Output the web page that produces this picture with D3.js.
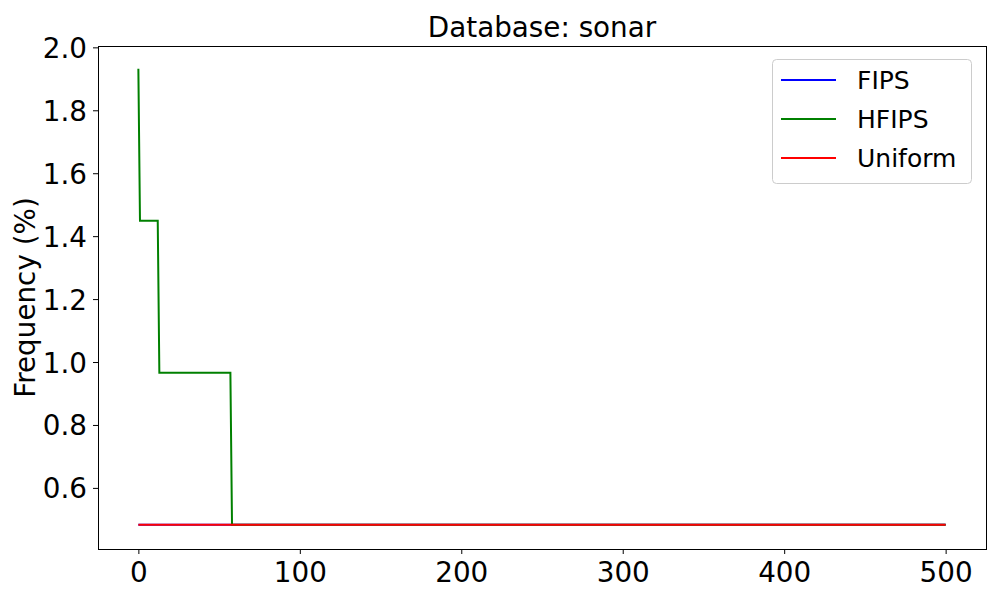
<!DOCTYPE html>
<html>
<head>
<meta charset="utf-8">
<script src="https://cdn.jsdelivr.net/npm/d3@7"></script>
<style>
  body { margin: 0; background: #fff; }
  text { font-family: "DejaVu Sans", sans-serif; fill: #000; }
</style>
</head>
<body>
<svg id="chart" width="1000" height="600"></svg>
<script>
// line vertices (x = index, y = frequency in %)
var fipsX = [0, 500];
var fipsY = [0.483, 0.483];
var hfipsX = [0, 1, 12, 13, 57, 58, 500];
var hfipsY = [1.932, 1.449, 1.449, 0.966, 0.966, 0.483, 0.483];
var uniformX = [0, 500];
var uniformY = [0.483, 0.483];
var seriesNames = ["FIPS", "HFIPS", "Uniform"];
var seriesColors = ["blue", "green", "red"];
var xTicks = [0, 100, 200, 300, 400, 500];
var yTicks = [0.6, 0.8, 1.0, 1.2, 1.4, 1.6, 1.8, 2.0];

var plotLeft = 98, plotRight = 986, plotTop = 46, plotBottom = 549;
var svg = d3.select('#chart');

var x = d3.scaleLinear().domain([-25, 525]).range([plotLeft, plotRight]);
var y = d3.scaleLinear().domain([0.4058, 2.0043]).range([plotBottom, plotTop]);

var series = [
  { name: seriesNames[0], color: seriesColors[0], xs: fipsX, ys: fipsY },
  { name: seriesNames[1], color: seriesColors[1], xs: hfipsX, ys: hfipsY },
  { name: seriesNames[2], color: seriesColors[2], xs: uniformX, ys: uniformY }
];

var line = d3.line().x(function(d) { return x(d[0]); }).y(function(d) { return y(d[1]); });

svg.selectAll('path.series').data(series).enter().append('path')
  .attr('class', 'series')
  .attr('fill', 'none')
  .attr('stroke', function(d) { return d.color; })
  .attr('stroke-width', 2)
  .attr('d', function(d) { return line(d.xs.map(function(v, i) { return [v, d.ys[i]]; })); });

// axes
var xAxis = d3.axisBottom(x).tickValues(xTicks).tickSize(5).tickPadding(6).tickFormat(d3.format('d'));
var yAxis = d3.axisLeft(y).tickValues(yTicks).tickSize(5).tickPadding(6).tickFormat(d3.format('.1f'));

var gx = svg.append('g').attr('transform', 'translate(0,' + plotBottom + ')').call(xAxis);
var gy = svg.append('g').attr('transform', 'translate(' + plotLeft + ',0)').call(yAxis);
[gx, gy].forEach(function(g) {
  g.select('.domain').remove();
  g.selectAll('.tick line').attr('stroke', '#000').attr('stroke-width', 1);
  g.selectAll('.tick text').style('font-size', '27.8px').attr('fill', '#000');
});
gx.selectAll('.tick text').attr('dy', '0.8em');
gy.selectAll('.tick text').attr('dy', '0.36em');

svg.append('rect')
  .attr('x', plotLeft + 0.5).attr('y', plotTop + 0.5)
  .attr('width', plotRight - plotLeft).attr('height', plotBottom - plotTop)
  .attr('fill', 'none').attr('stroke', '#000').attr('stroke-width', 1);

svg.append('text')
  .attr('x', (plotLeft + plotRight) / 2).attr('y', 37)
  .attr('text-anchor', 'middle')
  .style('font-size', '27.8px')
  .text('Database: sonar');

svg.append('text')
  .attr('transform', 'translate(35,' + (plotTop + plotBottom) / 2 + ') rotate(-90)')
  .attr('text-anchor', 'middle')
  .style('font-size', '27.8px')
  .text('Frequency (%)');

// legend
var legend = svg.append('g');
legend.append('rect')
  .attr('x', 772.5).attr('y', 59.5).attr('width', 199).attr('height', 124).attr('rx', 4)
  .attr('fill', '#fff').attr('fill-opacity', 0.8).attr('stroke', '#ccc').attr('stroke-width', 1);
var items = legend.selectAll('g.item').data(series).enter().append('g')
  .attr('class', 'item')
  .attr('transform', function(d, i) { return 'translate(0,' + (80 + i * 39) + ')'; });
items.append('line').attr('x1', 781).attr('x2', 836).attr('y1', 0).attr('y2', 0)
  .attr('stroke', function(d) { return d.color; }).attr('stroke-width', 2);
items.append('text').attr('x', 857).attr('y', 0).attr('dy', '0.36em')
  .style('font-size', '25px')
  .text(function(d) { return d.name; });
</script>
</body>
</html>
